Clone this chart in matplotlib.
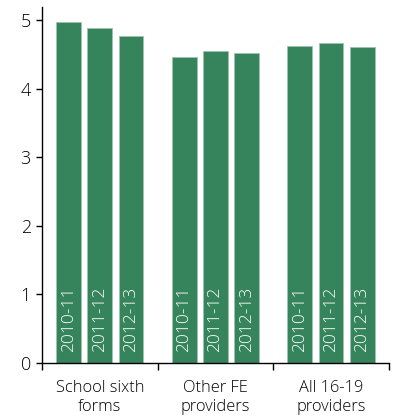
import numpy as np
from matplotlib import pyplot as plt

plt.rcParams['font.family'] = ['Open Sans', 'DejaVu Sans']

# Data
groups = ['School sixth\nforms', 'Other FE\nproviders', 'All 16-19\nproviders']
years = ['2010-11', '2011-12', '2012-13']
sixth_forms = [4.97, 4.88, 4.77]
other_fe = [4.46, 4.55, 4.52]
all_providers = [4.62, 4.66, 4.61]
y_ticks = [0, 1, 2, 3, 4, 5]

bar_color = '#35845C'

fig = plt.figure(figsize=(3.98, 4.17), dpi=100)
ax = fig.add_axes([0.1055, 0.1295, 0.977 - 0.1055, 0.983 - 0.1295])

offsets = [0.23, 0.5, 0.77]
width = 0.215
for g, vals in enumerate([sixth_forms, other_fe, all_providers]):
    xs = g + np.array(offsets)
    ax.bar(xs, vals, width=width, color=bar_color, edgecolor='#9cc4ae', linewidth=0.6)
    for x, yr in zip(xs, years):
        ax.text(x, 0.16, yr, rotation=90, color='white', ha='center', va='bottom',
                fontsize=12.5, fontweight='light')

ax.set_xlim(0, 3)
ax.set_ylim(0, 5.19)
ax.set_yticks(y_ticks)
ax.tick_params(axis='y', labelsize=13, length=4, width=1, pad=4)
ax.set_xticks([0, 1, 2, 3])
ax.set_xticklabels([])
ax.set_xticks([0.5, 1.5, 2.5], minor=True)
ax.set_xticklabels(groups, minor=True, fontsize=11.8, linespacing=1.3,
                   fontweight='light')
ax.tick_params(axis='x', which='major', length=5, width=1)
ax.tick_params(axis='x', which='minor', length=0, pad=12)
for lbl in ax.get_yticklabels():
    lbl.set_fontweight('light')

ax.spines['top'].set_visible(False)
ax.spines['right'].set_visible(False)
ax.spines['left'].set_linewidth(1)
ax.spines['bottom'].set_linewidth(1)

fig.savefig('out.png', dpi=100)
